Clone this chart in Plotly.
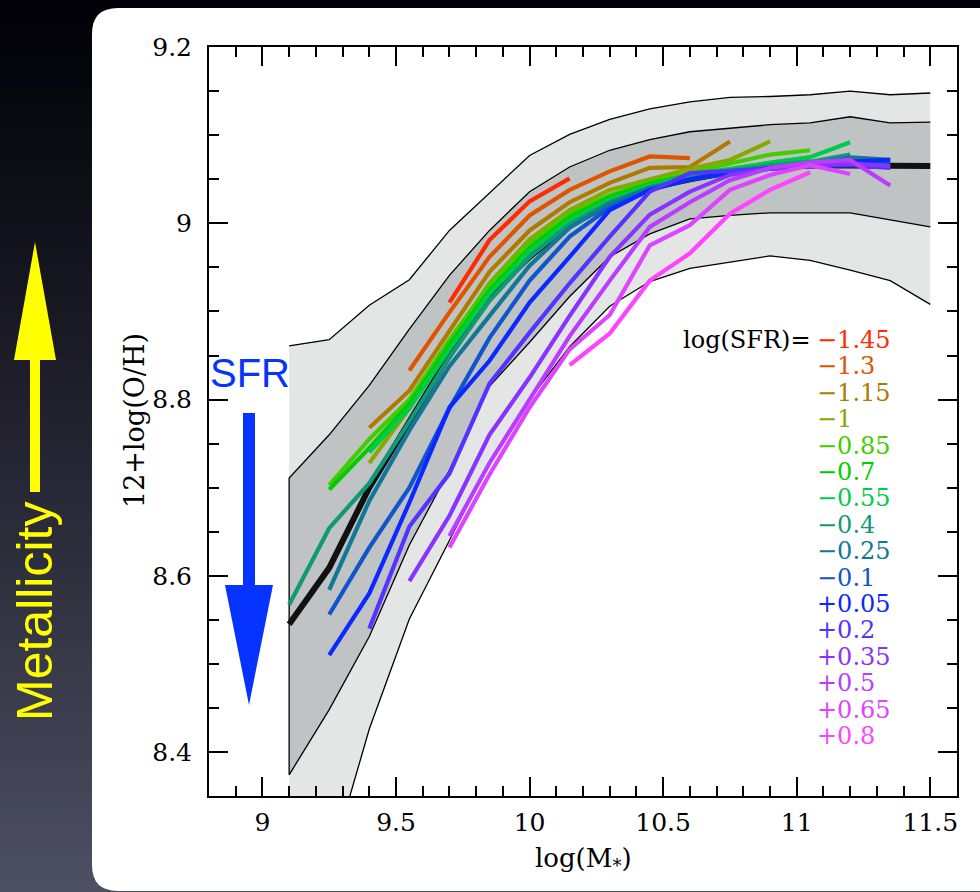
import plotly.graph_objects as go

N = None
# stellar-mass bins (log M*)
mass = [9.1, 9.25, 9.4, 9.55, 9.7, 9.85, 10.0, 10.15, 10.3, 10.45,
        10.6, 10.75, 10.9, 11.05, 11.2, 11.35, 11.5]

# percentile envelopes of the full sample
outer_upper = [8.861, 8.868, 8.907, 8.936, 8.992, 9.035, 9.077, 9.101, 9.118, 9.130,
               9.138, 9.143, 9.144, 9.146, 9.150, 9.146, 9.148]
inner_upper = [8.711, 8.760, 8.816, 8.880, 8.941, 8.992, 9.036, 9.064, 9.083, 9.095,
               9.104, 9.108, 9.112, 9.114, 9.121, 9.114, 9.115]
inner_lower = [8.374, 8.448, 8.531, 8.635, 8.720, 8.815, 8.865, 8.917, 8.962, 8.988,
               9.005, 9.009, 9.012, 9.012, 9.012, 9.004, 8.996]
outer_lower = [8.150, 8.269, 8.426, 8.551, 8.640, 8.730, 8.800, 8.860, 8.906, 8.934,
               8.949, 8.956, 8.963, 8.958, 8.947, 8.935, 8.908]
median = [8.545, 8.609, 8.700, 8.775, 8.850, 8.918, 8.962, 8.998, 9.022, 9.040,
          9.050, 9.058, 9.063, 9.066, 9.066, 9.065, 9.065]

# metallicity in bins of SFR
sfr_labels = ["\u22121.45", "\u22121.3", "\u22121.15", "\u22121", "\u22120.85", "\u22120.7",
              "\u22120.55", "\u22120.4", "\u22120.25", "\u22120.1", "+0.05", "+0.2",
              "+0.35", "+0.5", "+0.65", "+0.8"]
sfr_colors = ["#ff2a00", "#dd5500", "#b07a00", "#88a800", "#44cc00", "#00cc00",
              "#00cc4a", "#119977", "#117799", "#1155cc", "#0a28ff", "#5533ff",
              "#8833ff", "#bb3cff", "#dd44ff", "#ff44ff"]
sfr_m145 = [N, N, N, N, 8.910, 8.981, 9.025, 9.051, N, N, N, N, N, N, N, N, N]
sfr_m130 = [N, N, N, 8.833, 8.899, 8.962, 9.009, 9.038, 9.059, 9.076, 9.074, N, N, N, N, N, N]
sfr_m115 = [N, N, 8.768, 8.810, 8.878, 8.945, 8.992, 9.024, 9.046, 9.063, 9.064, 9.093, N, N, N, N, N]
sfr_m100 = [N, N, 8.728, 8.790, 8.865, 8.932, 8.982, 9.015, 9.038, 9.050, 9.062, 9.072, 9.093, N, N, N, N]
sfr_m085 = [N, 8.703, 8.755, 8.800, 8.868, 8.930, 8.977, 9.011, 9.032, 9.047, 9.058, 9.068, 9.078, 9.083, N, N, N]
sfr_m070 = [N, 8.698, 8.745, 8.795, 8.862, 8.924, 8.972, 9.007, 9.030, 9.045, 9.055, 9.062, 9.068, 9.075, N, N, N]
sfr_m055 = [N, N, 8.740, 8.790, 8.857, 8.920, 8.968, 9.003, 9.027, 9.043, 9.054, 9.062, 9.069, 9.075, 9.092, N, N]
sfr_m040 = [8.567, 8.654, 8.705, 8.775, 8.848, 8.912, 8.962, 8.999, 9.024, 9.041, 9.052, 9.060, 9.066, 9.070, 9.078, N, N]
sfr_m025 = [N, 8.584, 8.685, 8.765, 8.838, 8.895, 8.952, 8.995, 9.022, 9.040, 9.050, 9.058, 9.063, 9.067, 9.075, 9.072, N]
sfr_m010 = [N, 8.556, 8.632, 8.700, 8.790, 8.870, 8.935, 8.985, 9.018, 9.038, 9.050, 9.057, 9.062, 9.065, 9.068, 9.070, N]
sfr_p005 = [N, 8.510, 8.580, 8.683, 8.791, 8.844, 8.910, 8.962, 9.015, 9.038, 9.050, 9.058, 9.063, 9.066, 9.070, 9.072, N]
sfr_p020 = [N, N, 8.540, 8.656, 8.716, 8.818, 8.876, 8.932, 8.985, 9.036, 9.057, 9.060, 9.063, 9.065, 9.066, 9.063, N]
sfr_p035 = [N, N, N, 8.594, 8.668, 8.760, 8.825, 8.895, 8.962, 9.010, 9.036, 9.055, 9.062, 9.066, 9.068, 9.065, N]
sfr_p050 = [N, N, N, N, 8.645, 8.728, 8.800, 8.872, 8.935, 8.996, 9.024, 9.049, 9.063, 9.069, 9.072, 9.043, N]
sfr_p065 = [N, N, N, N, 8.632, 8.715, 8.791, 8.857, 8.896, 8.975, 8.998, 9.038, 9.055, 9.066, 9.056, N, N]
sfr_p080 = [N, N, N, N, N, N, N, 8.839, 8.875, 8.935, 8.966, 9.011, 9.038, 9.058, N, N, N]
sfr_series = [sfr_m145, sfr_m130, sfr_m115, sfr_m100, sfr_m085, sfr_m070, sfr_m055, sfr_m040,
              sfr_m025, sfr_m010, sfr_p005, sfr_p020, sfr_p035, sfr_p050, sfr_p065, sfr_p080]

x_ticks = [9, 9.5, 10, 10.5, 11, 11.5]
x_ticktext = ["9", "9.5", "10", "10.5", "11", "11.5"]
y_ticks = [8.4, 8.6, 8.8, 9.0, 9.2]
y_ticktext = ["8.4", "8.6", "8.8", "9", "9.2"]

# ---------------------------------------------------------------- layout geometry
W, H = 980, 892
L, R, T, B = 209, 957, 47, 796


def px(x):
    return (x - L) / (R - L)


def py(y):
    return (B - y) / (B - T)


SERIF = "DejaVu Serif, serif"
SANS = "Liberation Sans, Arial, Helvetica, sans-serif"

fig = go.Figure()

# light outer band
fig.add_trace(go.Scatter(x=mass + mass[::-1], y=outer_upper + outer_lower[::-1],
                         fill="toself", fillcolor="#e4e6e6", mode="none",
                         hoverinfo="skip", showlegend=False))
# dark inner band
fig.add_trace(go.Scatter(x=mass + mass[::-1], y=inner_upper + inner_lower[::-1],
                         fill="toself", fillcolor="#c0c3c4", mode="none",
                         hoverinfo="skip", showlegend=False))
# envelope outlines
for ys in (outer_upper, outer_lower):
    fig.add_trace(go.Scatter(x=mass, y=ys, mode="lines",
                             line=dict(color="black", width=1.3),
                             hoverinfo="skip", showlegend=False))
fig.add_trace(go.Scatter(x=mass[::-1] + mass, y=inner_upper[::-1] + inner_lower,
                         mode="lines", line=dict(color="black", width=1.3),
                         hoverinfo="skip", showlegend=False))
# median relation
fig.add_trace(go.Scatter(x=mass, y=median, mode="lines",
                         line=dict(color="#111111", width=6),
                         hoverinfo="skip", showlegend=False))
# SFR bins
for lab, col, ys in zip(sfr_labels, sfr_colors, sfr_series):
    fig.add_trace(go.Scatter(x=mass, y=ys, mode="lines", name=lab,
                             line=dict(color=col, width=4.2),
                             connectgaps=False, showlegend=False))

# ---------------------------------------------------------------- background
shapes = []
nb = 80
for i in range(nb):
    t = (i + 0.5) / nb
    c = (int(2 + 76 * t ** 1.15), int(2 + 78 * t ** 1.15), int(8 + 92 * t ** 1.15))
    y0 = H * i / nb
    y1 = H * (i + 1) / nb + 1
    shapes.append(dict(type="rect", xref="paper", yref="paper", layer="below",
                       x0=px(-2), x1=px(W + 2), y0=py(y0), y1=py(y1),
                       fillcolor="rgb(%d,%d,%d)" % c, line=dict(width=0)))

# white rounded panel
x0, y0, x1, y1, r = 92, 8, 1010, 891, 26
panel = ("M {a},{b} L {c},{b} L {c},{d} L {e},{d} Q {f},{d} {f},{g} "
         "L {f},{h} Q {f},{b} {a},{b} Z").format(
    a=px(x0 + r), b=py(y0), c=px(x1), d=py(y1), e=px(x0 + r), f=px(x0),
    g=py(y1 - r), h=py(y0 + r))
shapes.append(dict(type="path", xref="paper", yref="paper", layer="below",
                   path=panel, fillcolor="white", line=dict(width=0)))


def poly(points):
    s = "M " + " L ".join("%.5f,%.5f" % (px(a), py(b)) for a, b in points) + " Z"
    return s


# yellow metallicity arrow
shapes.append(dict(type="path", xref="paper", yref="paper", layer="above",
                   path=poly([(30, 492), (40, 492), (40, 360), (56, 360), (35, 242),
                              (14, 360), (30, 360)]),
                   fillcolor="#ffff00", line=dict(width=0)))
# blue SFR arrow
shapes.append(dict(type="path", xref="paper", yref="paper", layer="above",
                   path=poly([(243, 413), (255, 413), (255, 585), (273, 585), (249, 705),
                              (225, 585), (243, 585)]),
                   fillcolor="#0633ff", line=dict(width=0)))

# ---------------------------------------------------------------- annotations
ann = []
ann.append(dict(text="Metallicity", x=px(35), y=py(612), xref="paper", yref="paper",
                showarrow=False, textangle=-90, xanchor="center", yanchor="middle",
                font=dict(family=SANS, size=50, color="#ffff00")))
ann.append(dict(text="SFR", x=px(250), y=py(373), xref="paper", yref="paper",
                showarrow=False, xanchor="center", yanchor="middle",
                font=dict(family=SANS, size=40, color="#0633ff")))
ann.append(dict(text="12+log(O/H)", x=px(134), y=py(421), xref="paper", yref="paper",
                showarrow=False, textangle=-90, xanchor="center", yanchor="middle",
                font=dict(family=SERIF, size=27, color="black")))
ann.append(dict(text="log(M<sub>*</sub>)", x=px(583), y=py(860), xref="paper", yref="paper",
                showarrow=False, xanchor="center", yanchor="middle",
                font=dict(family=SERIF, size=26, color="black")))
ann.append(dict(text="log(SFR)=", x=px(813), y=py(340), xref="paper", yref="paper",
                showarrow=False, xanchor="right", yanchor="middle",
                font=dict(family=SERIF, size=24, color="black")))
for i, (lab, col) in enumerate(zip(sfr_labels, sfr_colors)):
    ann.append(dict(text=lab, x=px(815), y=py(340 + 26.4 * i), xref="paper", yref="paper",
                    showarrow=False, xanchor="left", yanchor="middle",
                    font=dict(family=SERIF, size=24, color=col)))

axis_common = dict(showline=True, linecolor="black", linewidth=2, mirror="allticks",
                   ticks="inside", tickwidth=2, tickcolor="black", ticklen=19,
                   showgrid=False, zeroline=False,
                   tickfont=dict(family=SERIF, size=25, color="black"))

fig.update_layout(
    width=W, height=H,
    margin=dict(l=L, r=W - R, t=T, b=H - B, pad=0),
    paper_bgcolor="#000000", plot_bgcolor="rgba(0,0,0,0)",
    showlegend=False,
    xaxis=dict(range=[8.8, 11.6], tickvals=x_ticks, ticktext=x_ticktext,
               ticklabelstandoff=3,
               minor=dict(dtick=0.1, tick0=9.0, ticks="inside", ticklen=10,
                          tickwidth=1.5, tickcolor="black", showgrid=False),
               **axis_common),
    yaxis=dict(range=[8.35, 9.2002], tickvals=y_ticks, ticktext=y_ticktext,
               ticklabelstandoff=10,
               minor=dict(dtick=0.05, tick0=8.4, ticks="inside", ticklen=10,
                          tickwidth=1.5, tickcolor="black", showgrid=False),
               **axis_common),
    shapes=shapes,
    annotations=ann,
)

fig.write_html("out.html", config={"displayModeBar": False},
               post_script="document.body.style.margin='0';document.body.style.overflow='hidden';")
